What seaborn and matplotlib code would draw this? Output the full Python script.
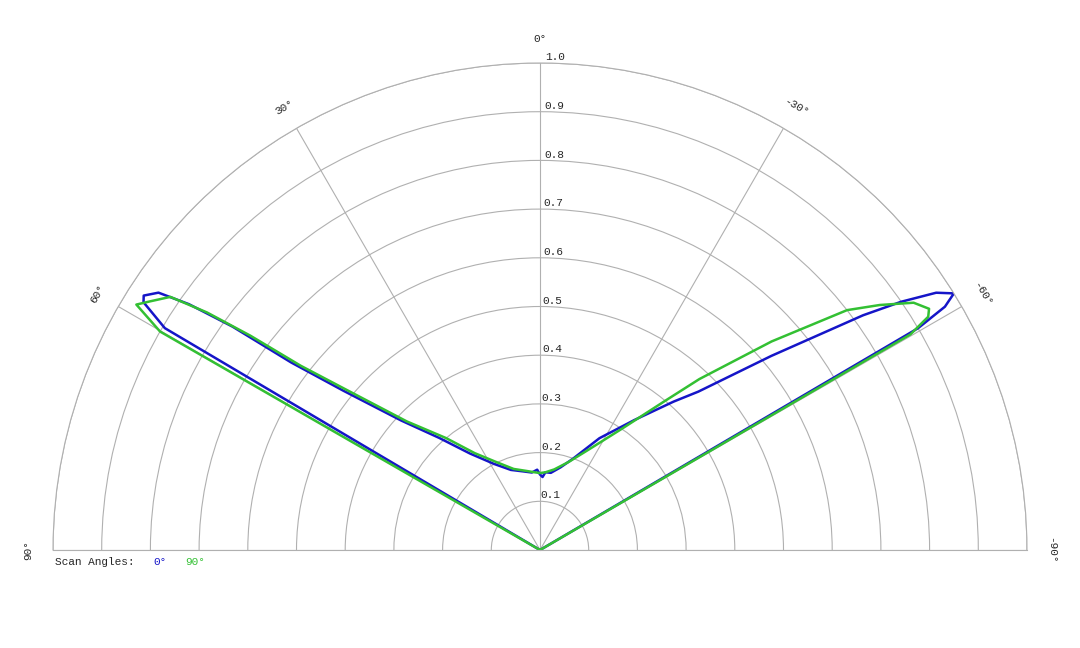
import numpy as np
import matplotlib
matplotlib.use("Agg")
import matplotlib.pyplot as plt
import seaborn as sns

sns.set_style("white")
plt.rcParams['font.family'] = ['Liberation Mono', 'DejaVu Sans Mono']

# scan angle 0 deg (blue)
theta_0 = [90, 59.5, 59.4, 58, 57.3, 56, 55, 54, 53, 51, 47, 42, 36, 28, 20, 12, 6, 2, 0,
           -2, -4, -8, -14, -20, -28, -36, -42, -45, -50, -54, -55.5, -57, -58.2, -59, -59.6, -59.7, -90]
r_0 = [0, 0, 0.895, 0.96, 0.967, 0.945, 0.88, 0.78, 0.64, 0.52, 0.39, 0.31, 0.245, 0.2, 0.175,
       0.165, 0.16, 0.165, 0.155, 0.15, 0.16, 0.16, 0.175, 0.2, 0.26, 0.33, 0.41, 0.46, 0.62, 0.82,
       0.9, 0.97, 1.0, 0.97, 0.9, 0, 0]
# scan angle 90 deg (green)
theta_90 = [90, 60.2, 60.1, 58.7, 57.5, 55.6, 54.5, 53.5, 52.4, 50, 46, 40, 34, 26, 18, 10, 4, 0,
            -4, -10, -18, -26, -34, -40, -43, -48, -52, -54.2, -56.5, -58.2, -59, -59.8, -59.9, -90]
r_90 = [0, 0, 0.9, 0.97, 0.95, 0.92, 0.84, 0.74, 0.62, 0.5, 0.38, 0.3, 0.24, 0.2, 0.175, 0.165,
        0.16, 0.158, 0.16, 0.168, 0.19, 0.23, 0.3, 0.4, 0.48, 0.64, 0.8, 0.86, 0.92, 0.94, 0.93, 0.88, 0, 0]

theta_ticks = [90, 60, 30, 0, -30, -60, -90]
r_ticks = [0.1, 0.2, 0.3, 0.4, 0.5, 0.6, 0.7, 0.8, 0.9, 1.0]

fig = plt.figure(figsize=(10.8, 6.48), dpi=100)
ax = fig.add_axes([53 / 1080, -145.5 / 648, 974 / 1080, 974 / 648], projection='polar')
ax.set_theta_zero_location('N')
ax.set_theta_direction(1)
ax.set_thetamin(-90)
ax.set_thetamax(90)
ax.set_rlim(0, 1.0)

ax.set_xticks(np.deg2rad(theta_ticks))
ax.set_xticklabels([])
ax.set_yticks(r_ticks)
ax.set_yticklabels([])
ax.grid(True, color='#b0b0b0', lw=0.8)
for s in ax.spines.values():
    s.set_color('#b0b0b0')
    s.set_linewidth(0.8)

sns.lineplot(x=np.deg2rad(theta_0), y=r_0, ax=ax, sort=False, estimator=None, color='#1515c8', lw=1.8)
sns.lineplot(x=np.deg2rad(theta_90), y=r_90, ax=ax, sort=False, estimator=None, color='#33c033', lw=1.8)

for t in theta_ticks:
    ax.text(np.deg2rad(t), 1.05, f"{t}°", rotation=t, ha='center', va='center', fontsize=8,
            clip_on=False)
for r in r_ticks:
    ax.text(np.deg2rad(-0.6), r + 0.012, f"{r:.1f}", ha='left', va='center', fontsize=8)

fig.text(55 / 1080, 1 - 562 / 648, "Scan Angles:", fontsize=8, va='center')
fig.text(153 / 1080, 1 - 562 / 648, "0°", fontsize=8, va='center', color='#1515c8')
fig.text(185 / 1080, 1 - 562 / 648, "90°", fontsize=8, va='center', color='#33c033')

fig.savefig("out.png", dpi=100, facecolor='white')
